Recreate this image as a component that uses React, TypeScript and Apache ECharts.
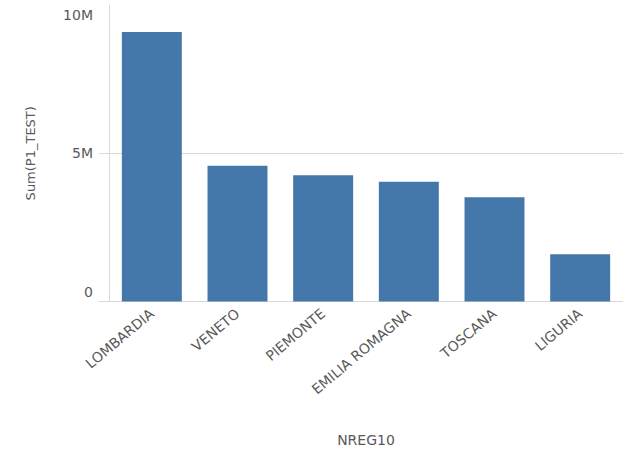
import React, { useEffect, useRef } from "react";
import * as echarts from "echarts";

const categories = ["LOMBARDIA", "VENETO", "PIEMONTE", "EMILIA ROMAGNA", "TOSCANA", "LIGURIA"];
const values = [9090000, 4580000, 4260000, 4040000, 3520000, 1590000];
const yTicks = [0, 5000000, 10000000];
const yTickLabels = ["0", "5M", "10M"];
const xAxisName = "NREG10";
const yAxisName = "Sum(P1_TEST)";

const FONT = "DejaVu Sans";
const GRID = "#d9d9d9";
const LABEL = "#595959";

export default function App() {
  const ref = useRef<HTMLDivElement>(null);
  useEffect(() => {
    document.body.style.margin = "0";
    const chart = echarts.init(ref.current!, null, { renderer: "svg" });
    chart.setOption({
      animation: false,
      backgroundColor: "#ffffff",
      grid: { left: 109, right: 0, top: 5, bottom: 152.5, containLabel: false },
      xAxis: {
        type: "category",
        data: categories,
        name: xAxisName,
        nameLocation: "middle",
        nameGap: 131,
        nameTextStyle: { color: LABEL, fontSize: 14, fontFamily: FONT },
        axisLine: { show: true, lineStyle: { color: GRID, width: 1 } },
        axisTick: { show: false },
        axisLabel: {
          interval: 0,
          rotate: 40,
          margin: 10,
          color: LABEL,
          fontSize: 14,
          fontFamily: FONT,
        },
      },
      yAxis: {
        type: "value",
        min: 0,
        max: 10000000,
        interval: 5000000,
        name: yAxisName,
        nameLocation: "middle",
        nameGap: 72,
        nameTextStyle: { color: LABEL, fontSize: 13, fontFamily: FONT },
        axisLine: { show: true, lineStyle: { color: GRID, width: 1 } },
        axisTick: {
          show: true,
          length: 10,
          customValues: [yTicks[0], yTicks[1]],
          lineStyle: { color: GRID, width: 1 },
        },
        splitLine: { show: true, lineStyle: { color: GRID, width: 1 } },
        axisLabel: {
          margin: 16,
          color: LABEL,
          fontSize: 14,
          fontFamily: FONT,
          verticalAlignMaxLabel: "top",
          verticalAlignMinLabel: "bottom",
          formatter: (v: number) => {
            const i = yTicks.indexOf(v);
            const t = i >= 0 ? yTickLabels[i] : String(v);
            if (v === yTicks[yTicks.length - 1]) return "{top|" + t + "}";
            if (v === yTicks[0]) return "{bot|" + t + "}";
            return t;
          },
          rich: {
            top: { color: LABEL, fontSize: 14, fontFamily: FONT, padding: [3, 0, 0, 0] },
            bot: { color: LABEL, fontSize: 14, fontFamily: FONT, padding: [0, 0, 3, 0] },
          },
        },
      },
      series: [
        {
          type: "bar",
          data: values,
          barWidth: "70%",
          itemStyle: { color: "#4477aa" },
        },
      ],
    });
    return () => chart.dispose();
  }, []);
  return (
    <div
      ref={ref}
      style={{ position: "absolute", left: 0, top: 0, width: 623, height: 454 }}
    />
  );
}
